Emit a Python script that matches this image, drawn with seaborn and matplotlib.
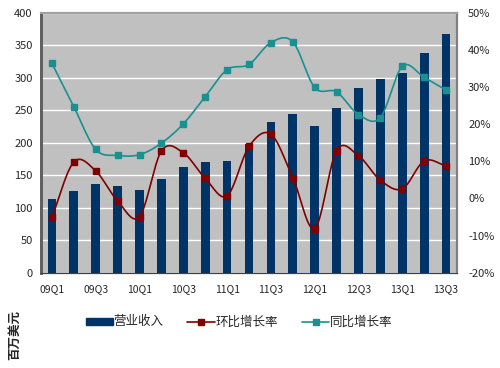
import matplotlib
matplotlib.use("Agg")
import matplotlib.pyplot as plt
import seaborn as sns
import numpy as np
import pandas as pd
from matplotlib.lines import Line2D
from matplotlib.patches import Patch

# data
quarters = ["09Q1", "09Q2", "09Q3", "09Q4", "10Q1", "10Q2", "10Q3", "10Q4",
            "11Q1", "11Q2", "11Q3", "11Q4", "12Q1", "12Q2", "12Q3", "12Q4",
            "13Q1", "13Q2", "13Q3"]
revenue = [114, 125, 136, 134, 128, 145, 162, 171, 172, 198, 232, 245, 226,
           254, 285, 298, 308, 338, 368]
qoq = [-5.0, 9.8, 7.4, -0.7, -4.9, 12.8, 12.3, 5.4, 0.7, 14.0, 17.3, 5.6,
       -8.1, 12.9, 11.5, 4.9, 2.6, 10.1, 8.8]
yoy = [36.4, 24.7, 13.2, 11.6, 11.8, 14.9, 20.1, 27.4, 34.7, 36.1, 42.0, 42.2,
       29.9, 28.7, 22.6, 21.8, 35.6, 32.6, 29.2]

NAVY = "#003366"
RED = "#800000"
TEAL = "#1a9090"

sns.set_style("white")
plt.rcParams["font.family"] = ["Noto Sans CJK SC", "DejaVu Sans"]


def smooth(x, y, n=20):
    # catmull-rom curve through the points, like excel's smoothed line
    x = np.asarray(x, float)
    y = np.asarray(y, float)
    px = np.concatenate([[2 * x[0] - x[1]], x, [2 * x[-1] - x[-2]]])
    py = np.concatenate([[2 * y[0] - y[1]], y, [2 * y[-1] - y[-2]]])
    xs, ys = [], []
    t = np.linspace(0, 1, n, endpoint=False)
    for i in range(1, len(px) - 2):
        for p, out in ((px, xs), (py, ys)):
            p0, p1, p2, p3 = p[i - 1], p[i], p[i + 1], p[i + 2]
            out.extend(0.5 * (2 * p1 + (-p0 + p2) * t
                              + (2 * p0 - 5 * p1 + 4 * p2 - p3) * t ** 2
                              + (-p0 + 3 * p1 - 3 * p2 + p3) * t ** 3))
    xs.append(x[-1])
    ys.append(y[-1])
    return np.array(xs), np.array(ys)


df = pd.DataFrame({"q": quarters, "rev": revenue, "qoq": qoq, "yoy": yoy})
pos = np.arange(len(quarters))

fig = plt.figure(figsize=(5, 3.68), dpi=100)
ax = fig.add_axes([0.082, 0.259, 0.832, 0.706])
ax.set_facecolor("#c0c0c0")

sns.barplot(data=df, x="q", y="rev", color=NAVY, width=0.4, saturation=1,
            ax=ax, zorder=3, edgecolor=NAVY, linewidth=0)
ax.set_ylim(0, 400)
ax.set_xlim(-0.5, len(quarters) - 0.5)
ax.set_yticks(range(0, 401, 50))
ax.yaxis.grid(True, color="white", lw=1.0)
ax.set_axisbelow(True)
ax.set_xlabel("")
ax.set_ylabel("")
ax.set_xticks(pos[::2])
ax.set_xticklabels(quarters[::2])
ax.set_xticks(np.arange(-0.5, len(quarters), 1), minor=True)
ax.tick_params(axis="x", which="major", length=0, labelsize=7.5, pad=8)
ax.tick_params(axis="x", which="minor", direction="in", length=3, color="#404040")
ax.tick_params(axis="y", length=0, labelsize=8, pad=6)

ax2 = ax.twinx()
ax2.set_ylim(-20, 50)
ax2.set_yticks(range(-20, 51, 10))
ax2.set_yticklabels([f"{v}%" for v in range(-20, 51, 10)])
ax2.tick_params(axis="y", length=0, labelsize=8, pad=8)

sx, sy = smooth(pos, qoq)
ax2.plot(sx, sy, color=RED, lw=1.2, zorder=4)
ax2.plot(pos, qoq, ls="none", marker="s", ms=4.5, color=RED, zorder=5)
sx, sy = smooth(pos, yoy)
ax2.plot(sx, sy, color=TEAL, lw=1.2, zorder=4)
ax2.plot(pos, yoy, ls="none", marker="s", ms=4.5, color=TEAL, zorder=5)

for a in (ax, ax2):
    a.spines["left"].set_color("#606060")
    a.spines["left"].set_linewidth(2)
    a.spines["bottom"].set_color("#404040")
    a.spines["right"].set_color("#808080")
    a.spines["right"].set_linewidth(1.5)
    a.spines["top"].set_color("#a0a0a0")
    a.spines["top"].set_linewidth(1.5)

handles = [Patch(color=NAVY),
           Line2D([], [], color=RED, marker="s", ms=4, lw=1.2),
           Line2D([], [], color=TEAL, marker="s", ms=4, lw=1.2)]
fig.legend(handles, ["营业收入", "环比增长率", "同比增长率"], loc="center",
           bbox_to_anchor=(0.478, 0.125), ncol=3, frameon=False, fontsize=9,
           handlelength=2.2, handleheight=0.5, handletextpad=0.05,
           columnspacing=1.9)
fig.text(0.03, 0.09, "百万美元", rotation=90, ha="center", va="center",
         fontsize=9, fontweight="bold")

fig.savefig("out.png", dpi=100)
